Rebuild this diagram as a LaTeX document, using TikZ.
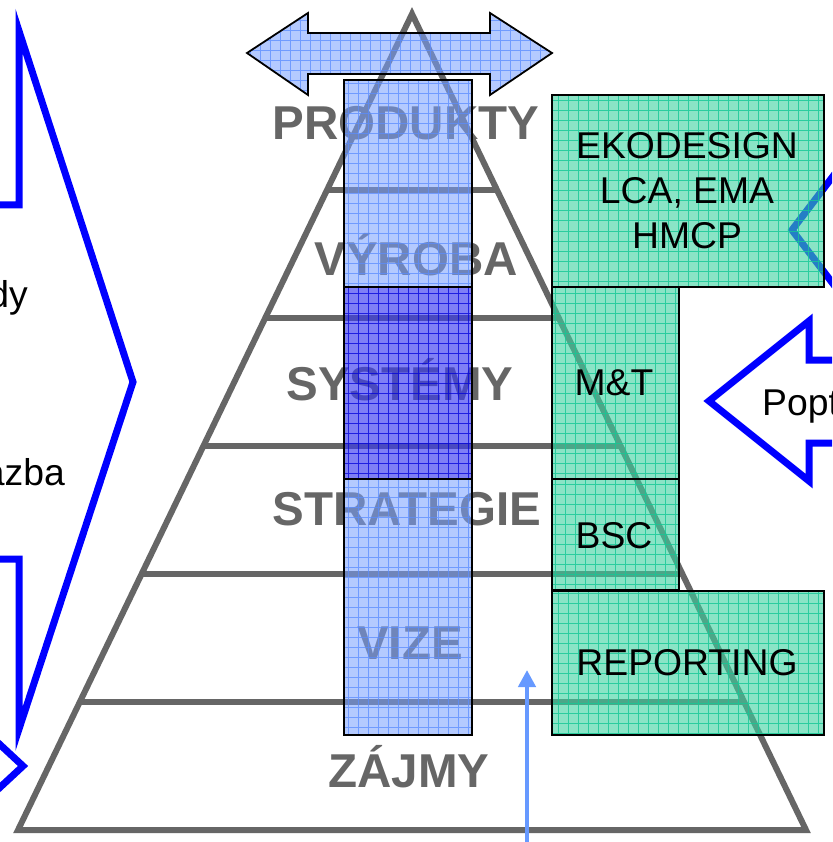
\documentclass[tikz,border=0pt]{standalone}
\usepackage{fontspec}
\setmainfont{Liberation Sans}
\usetikzlibrary{arrows.meta,calc}
\definecolor{pyrgray}{RGB}{102,102,102}
\definecolor{lbfill}{RGB}{120,160,255}
\definecolor{lbgrid}{RGB}{90,140,255}
\definecolor{dbfill}{RGB}{60,60,240}
\definecolor{dbgrid}{RGB}{0,0,220}
\definecolor{gfill}{RGB}{60,210,160}
\definecolor{ggrid}{RGB}{20,200,150}
\definecolor{upblue}{RGB}{102,153,255}
\definecolor{pureblue}{RGB}{0,0,255}
\tikzset{
  lbgridpic/.style={path picture={\draw[lbgrid, draw opacity=0.75, line width=0.8pt] (path picture bounding box.south west) grid[step=10pt] (path picture bounding box.north east);}},
  dbgridpic/.style={path picture={\draw[dbgrid, draw opacity=0.75, line width=0.8pt] (path picture bounding box.south west) grid[step=10pt] (path picture bounding box.north east);}},
  ggridpic/.style={path picture={\draw[ggrid, draw opacity=0.8, line width=0.8pt] (path picture bounding box.south west) grid[step=10pt] (path picture bounding box.north east);}},
  lightbar/.style={draw=black, line width=1.8pt, fill=lbfill, fill opacity=0.55, text opacity=1, inner sep=0pt, anchor=north west, lbgridpic},
  darkbar/.style={draw=black, line width=1.8pt, fill=dbfill, fill opacity=0.65, text opacity=1, inner sep=0pt, anchor=north west, dbgridpic},
  greenbox/.style={draw=black, line width=1.8pt, fill=gfill, fill opacity=0.6, text opacity=1, inner sep=0pt, anchor=north west, ggridpic},
  dblarrow/.style={draw=black, line width=1.8pt, fill=lbfill, fill opacity=0.55, lbgridpic},
  pyrline/.style={draw=pyrgray, line width=6pt},
  pyrlabel/.style={text=pyrgray, font=\fontsize{47.5}{52}\selectfont\bfseries, inner sep=0pt, anchor=base},
  boxtext/.style={text=black, font=\fontsize{37.3}{44.5}\selectfont, inner sep=0pt, anchor=base},
  sidetext/.style={text=black, font=\fontsize{37.3}{44.5}\selectfont, inner sep=0pt},
  bluearrow/.style={draw=pureblue, line width=7pt, miter limit=10},
  uparrow/.style={draw=upblue, line width=4.5pt, -{Triangle[length=17pt,width=17pt]}}
}
\begin{document}
\begin{tikzpicture}[x=1pt,y=-1pt]
\useasboundingbox (0,0) rectangle (832,842);
\clip (0,0) rectangle (832,842);
\fill[white] (0,0) rectangle (832,842);

% outline arrows (blue)
\draw[bluearrow] (-60,205) -- (19,205) -- (19,31) -- (133,382) -- (19,729) -- (19,559) -- (-60,559);
\draw[bluearrow] (-20,726) -- (23,766) -- (-20,806);
\draw[bluearrow] (850,360) -- (809,360) -- (809,321) -- (709,401) -- (809,481) -- (809,443) -- (850,443);
\draw[bluearrow] (850,154) -- (792,230) -- (850,306);

% pyramid labels
\node[pyrlabel] (produkty) at (406,140) {PRODUKTY};
\node[pyrlabel] (vyroba) at (416,275) {VÝROBA};
\node[pyrlabel] (systemy) at (400,400) {SYSTÉMY};
\node[pyrlabel] (strategie) at (407,525) {STRATEGIE};
\node[pyrlabel] (vize) at (410,659) {VIZE};
\node[pyrlabel] (zajmy) at (409,787) {ZÁJMY};

% pyramid
\coordinate (apex) at (412,14);
\coordinate (bl) at (18,830);
\coordinate (br) at (806,830);
\foreach \t in {0.2157,0.3725,0.5294,0.6863,0.8431}
  \draw[pyrline] ($(apex)!\t!(bl)$) -- ($(apex)!\t!(br)$);
\draw[pyrline, line join=miter] (apex) -- (bl) -- (br) -- cycle;

% upward arrow
\coordinate (upfoot) at (527,850);
\coordinate (uptip) at (527,670);
\draw[uparrow] (upfoot) -- (uptip);

% vertical bar
\node[lightbar, minimum width=128pt, minimum height=207pt] (bartop) at (343,79) {};
\node[darkbar, minimum width=128pt, minimum height=192pt] (barmid) at (343,286) {};
\node[lightbar, minimum width=128pt, minimum height=256pt] (barbot) at (343,478) {};

% double arrow
\draw[dblarrow] (247,53) -- (308,13) -- (308,33) -- (490,33) -- (490,13) -- (552,53) -- (490,95) -- (490,74) -- (308,74) -- (308,95) -- cycle;

% green boxes
\node[greenbox, minimum width=272pt, minimum height=192pt] (eko) at (551,94) {};
\node[greenbox, minimum width=127pt, minimum height=192pt] (mt) at (551,286) {};
\node[greenbox, minimum width=127pt, minimum height=111pt] (bsc) at (551,478) {};
\node[greenbox, minimum width=272pt, minimum height=144pt] (rep) at (551,590) {};

\node[boxtext] (ekot1) at (687,159) {EKODESIGN};
\node[boxtext] (ekot2) at (687,204) {LCA, EMA};
\node[boxtext] (ekot3) at (687,248) {HMCP};
\node[boxtext] (mtt) at (614,395) {M\&T};
\node[boxtext] (bsct) at (614,548) {BSC};
\node[boxtext] (rept) at (687,675) {REPORTING};

% cut-off side texts (cut by the picture edge, as in the reference)
\node[sidetext, anchor=base east] (dy) at (28,307) {dy};
\node[sidetext, anchor=base east] (azba) at (65,485) {azba};
\node[sidetext, anchor=base west] (popt) at (762,415) {Popt};
\end{tikzpicture}
\end{document}
